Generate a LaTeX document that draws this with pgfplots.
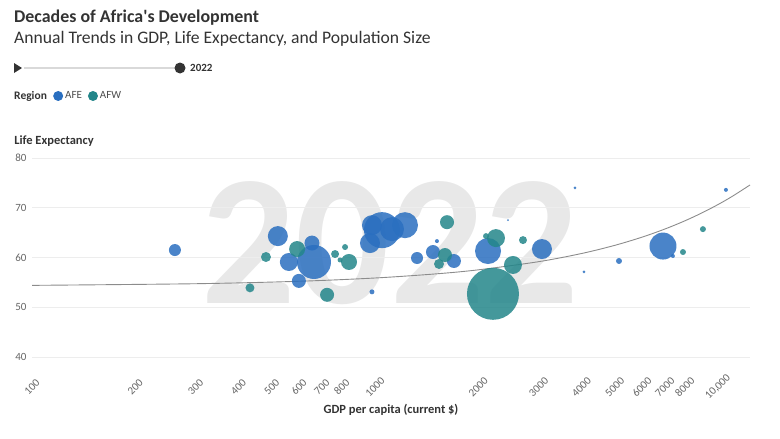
\documentclass[border=0pt]{standalone}
\usepackage{fontspec}
\setmainfont{Carlito}
\usepackage{pgfplots}
\usepackage{pgfplotstable}
\pgfplotsset{compat=1.18}
\definecolor{cAFE}{HTML}{2A6FC0}
\definecolor{cAFW}{HTML}{23868A}
\definecolor{txt}{HTML}{333333}
\definecolor{tick}{HTML}{666666}

\pgfplotstableread{
x y r
261 61.5 6
521 64.3 10
561 59.1 9
655 62.9 7.5
664 59.1 17
600 55.3 7
980 53.1 2.5
980 66.5 10
1048 65.5 18
1121 65.7 12
1223 66.5 13
967 62.9 10
1326 59.9 6
1476 61.1 7
1516 63.3 2
1699 59.3 7
2136 61.3 13
2442 67.5 1
3068 61.7 10
3830 74.0 1.5
4068 57.1 1.5
5145 59.3 3
6914 62.3 13.5
7392 60.3 2
10550 73.6 2
}\afe

\pgfplotstableread{
x y r
481 60.1 5
432 53.9 4.5
593 61.7 8
725 52.5 7
765 60.7 4
818 62.1 3
791 59.5 2.5
840 59.1 8
1622 67.1 7
1600 60.5 7
1537 58.7 5
2107 64.3 3
2253 63.9 9
2701 63.5 4
2525 58.5 9
2208 52.7 26
7907 61.1 3
9040 65.7 3
}\afw

\pgfplotstableread{
x y
100 54.40
300 54.73
600 55.22
1000 55.88
1500 56.70
2000 57.52
3000 59.16
4000 60.80
5000 62.44
6000 64.08
7000 65.72
8000 67.36
9000 69.00
10000 70.64
11000 72.28
12400 74.58
}\trend

\begin{document}
\begin{tikzpicture}
\path[use as bounding box] (0pt,0pt) rectangle (780pt,-439pt);
% titles
\node[anchor=base west, inner sep=0, text=txt, font=\fontsize{17.9}{20}\selectfont\bfseries] at (14pt,-23pt) {Decades of Africa\textquotesingle s Development};
\node[anchor=base west, inner sep=0, text=txt, font=\fontsize{17.6}{20}\selectfont] at (14pt,-43pt) {Annual Trends in GDP, Life Expectancy, and Population Size};
% slider
\draw[black!15, line width=2pt] (24pt,-68pt) -- (178pt,-68pt);
\fill[txt] (14pt,-63pt) -- (22pt,-68pt) -- (14pt,-73pt) -- cycle;
\fill[txt] (180pt,-68pt) circle (5.5pt);
\node[anchor=west, inner sep=0, text=txt, font=\fontsize{11}{13}\selectfont\bfseries] at (190pt,-68pt) {2022};
% legend label
\node[anchor=west, inner sep=0, text=txt, font=\fontsize{11.5}{13}\selectfont\bfseries] at (14pt,-96.5pt) {Region};
% watermark
\node[anchor=base, inner sep=0, text=black!9, font=\fontsize{186}{186}\selectfont\bfseries] at (390pt,-303pt) {2022};

\begin{axis}[
  at={(32pt,-357pt)}, anchor=south west,
  scale only axis, width=718pt, height=199pt,
  xmode=log, xmin=100, xmax=12400, ymin=40, ymax=80,
  xtick={100,200,300,400,500,600,700,800,1000,2000,3000,4000,5000,6000,7000,8000,10000},
  xticklabels={100,200,300,400,500,600,700,800,1000,2000,3000,4000,5000,6000,7000,8000,{10,000}},
  xminorticks=false,
  ytick={40,50,60,70,80},
  ymajorgrids, grid style={draw=black!7, line width=1pt},
  axis line style={draw=none}, major tick length=0pt,
  /pgf/number format/assume math mode=true,
  xticklabel style={yshift=-30pt, rotate=45, anchor=center, font=\fontsize{11}{13}\selectfont, text=tick},
  yticklabel style={font=\fontsize{11}{13}\selectfont, text=tick, xshift=-2pt},
  xlabel={GDP per capita (current \$)},
  xlabel style={at={(axis description cs:0.5,-0.266)}, anchor=center, font=\fontsize{12.5}{15}\selectfont\bfseries, text=txt},
  clip=false,
  legend style={draw=none, fill=none, inner sep=0pt, at={(axis description cs:0.0292,1.3116)}, anchor=west,
    font=\fontsize{11}{13}\selectfont, text=black!70, legend columns=-1,
    /tikz/every even column/.append style={column sep=4pt}},
  legend image code/.code={\fill[#1, draw=none] (5pt,0pt) circle (5pt);},
]
\addlegendimage{fill=cAFE}
\addlegendentry{AFE}
\addlegendimage{fill=cAFW}
\addlegendentry{AFW}

\addplot[scatter, only marks, mark=*, draw=none,
  mark options={draw opacity=0, fill opacity=0.85},
  scatter/use mapped color={draw=cAFE, fill=cAFE},
  visualization depends on={\thisrow{r} \as \rad},
  scatter/@pre marker code/.append style={/tikz/mark size=\rad}] table {\afe};
\addplot[scatter, only marks, mark=*, draw=none,
  mark options={draw opacity=0, fill opacity=0.85},
  scatter/use mapped color={draw=cAFW, fill=cAFW},
  visualization depends on={\thisrow{r} \as \rad},
  scatter/@pre marker code/.append style={/tikz/mark size=\rad}] table {\afw};
\addplot[no marks, color=black!45, line width=0.9pt, smooth] table {\trend};

\node[anchor=west, inner sep=0, text=txt, font=\fontsize{12.5}{15}\selectfont\bfseries] at (axis description cs:-0.025,1.085) {Life Expectancy};
\end{axis}
\end{tikzpicture}
\end{document}
